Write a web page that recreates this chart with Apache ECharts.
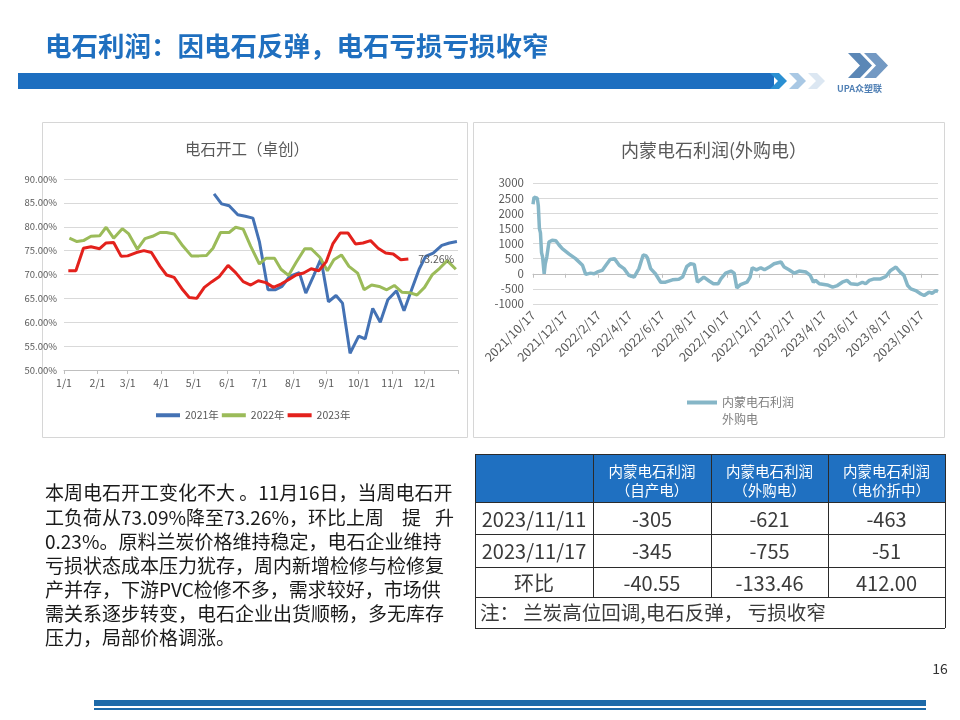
<!DOCTYPE html>
<html><head><meta charset="utf-8">
<script src="https://cdn.jsdelivr.net/npm/echarts@6/dist/echarts.min.js"></script>
<style>html,body{margin:0;padding:0;background:#fff}#c{width:960px;height:720px}</style>
</head><body><div id="c"></div>
<script>
const FONT = '"Noto Sans CJK SC","Noto Sans",sans-serif';

// ---------- left chart: 电石开工（卓创） ----------
const monthLabels = ['1/1','2/1','3/1','4/1','5/1','6/1','7/1','8/1','9/1','10/1','11/1','12/1'];
const monthStartDays = [0,31,59,90,120,151,181,212,243,273,304,334];
const rateTicks = [50,55,60,65,70,75,80,85,90];
const legendYears = ['2021年','2022年','2023年'];

const days2021 = [139,146,153,161,168,175,181,189,196,202,209,218,224,231,238,245,252,258,265,273,279,286,293,300,308,315,322,329,335,342,350,357,364];
const rate2021 = [86.9,84.8,84.4,82.5,82.2,81.8,76.9,66.8,66.8,67.5,69.6,70.4,66.1,69.6,73.3,64.3,65.6,64.0,53.5,57.1,56.5,62.9,60.0,64.7,66.6,62.4,66.8,71.1,73.8,74.5,76.1,76.6,76.9];

const days2022 = [5,12,18,25,33,39,46,54,60,68,75,82,89,95,102,110,118,125,132,138,145,153,159,166,173,181,187,195,201,208,215,223,229,237,244,250,257,264,272,278,285,292,299,306,313,320,327,334,341,348,355,363];
const rate2022 = [77.6,76.9,77.1,78.0,78.1,79.9,77.6,79.6,78.5,75.3,77.5,78.0,78.8,78.8,78.5,76.0,73.9,73.9,74.0,75.5,78.8,78.8,79.9,79.5,75.9,72.2,73.4,73.4,71.1,69.8,72.5,75.4,75.4,73.6,70.8,73.1,74.1,71.7,70.3,66.8,67.8,67.5,66.8,67.7,66.3,66.2,65.7,67.3,69.9,71.3,72.9,71.1];

const days2023 = [4,11,18,25,33,39,46,53,59,67,74,81,89,95,102,110,116,123,130,137,144,152,159,166,173,180,187,194,201,208,215,222,229,236,243,249,256,263,270,277,284,291,298,305,312,319];
const rate2023 = [70.8,70.8,75.5,75.8,75.4,76.6,76.7,73.8,73.9,74.6,75.0,74.6,71.7,69.9,69.4,66.8,65.2,65.0,67.3,68.5,69.6,71.9,70.4,68.5,67.8,68.7,68.3,67.3,68.0,68.9,69.9,70.3,71.2,70.8,72.7,76.4,78.7,78.7,76.4,76.6,77.1,75.5,74.5,74.3,73.09,73.26];

// ---------- right chart: 内蒙电石利润(外购电) ----------
const profitBaseDate = '2021/10/17';
const profitEndDate = '2023/11/17';
const profitTickLabels = ['2021/10/17','2021/12/17','2022/2/17','2022/4/17','2022/6/17','2022/8/17','2022/10/17','2022/12/17','2023/2/17','2023/4/17','2023/6/17','2023/8/17','2023/10/17'];
const profitTicks = [-1000,-500,0,500,1000,1500,2000,2500,3000];
const profitSeriesName = '内蒙电石利润外购电';
// [days after 2021/10/17, profit]
const profitPoints = [
 [0,2300],[2,2530],[8,2500],[10,2250],[12,1500],[14,1350],[16,700],[18,560],[21,0],[23,330],[26,560],[30,1050],[36,1110],[43,1090],
 [49,950],[55,830],[68,650],[80,500],[93,280],[99,-20],[108,20],[115,0],[121,60],[130,110],[137,280],[145,470],[148,530],[153,500],
 [162,280],[171,170],[180,-50],[190,-110],[199,170],[207,620],[212,600],[215,530],[221,170],[230,0],[240,-280],[249,-280],[262,-200],
 [274,-180],[281,-110],[289,240],[296,330],[303,310],[309,-280],[321,-110],[331,-240],[339,-330],[348,-330],[353,-170],[362,20],
 [372,90],[378,20],[383,-470],[390,-360],[402,-280],[408,-110],[412,200],[420,130],[428,200],[435,130],[444,220],[453,330],
 [466,390],[472,220],[481,130],[491,20],[500,90],[513,55],[521,-55],[527,-280],[531,-220],[538,-330],[553,-370],[563,-440],
 [572,-390],[581,-280],[590,-220],[597,-330],[610,-355],[619,-280],[625,-330],[632,-220],[641,-170],[653,-170],[663,-90],
 [672,110],[682,220],[690,55],[697,-55],[704,-390],[710,-500],[719,-555],[729,-670],[735,-720],[744,-610],[750,-645],[757,-555],[761,-590]
];

// ---------- table & text ----------
const tableHeaders = [['内蒙电石利润','（自产电）'],['内蒙电石利润','（外购电）'],['内蒙电石利润','（电价折中）']];
const tableRows = [
  ['2023/11/11','-305','-621','-463'],
  ['2023/11/17','-345','-755','-51'],
  ['环比','-40.55','-133.46','412.00']
];
const tableNote = '注： 兰炭高位回调,电石反弹， 亏损收窄';
const paragraphLines = [
  '本周电石开工变化不大 。11月16日，当周电石开',
  '工负荷从73.09%降至73.26%，环比上周',
  '0.23%。原料兰炭价格维持稳定，电石企业维持',
  '亏损状态成本压力犹存，周内新增检修与检修复',
  '产并存，下游PVC检修不多，需求较好，市场供',
  '需关系逐步转变，电石企业出货顺畅，多无库存',
  '压力，局部价格调涨。'
];
const slideTitle = '电石利润：因电石反弹，电石亏损亏损收窄';
const pageNumber = '16';

// ---------- helpers ----------
function toDay(s){ const p = s.split('/').map(Number); const b = profitBaseDate.split('/').map(Number);
  return Math.round((Date.UTC(p[0],p[1]-1,p[2]) - Date.UTC(b[0],b[1]-1,b[2]))/86400000); }
const profitTickDays = profitTickLabels.map(toDay);
const zip = (a,b) => a.map((v,i)=>[v,b[i]]);
function chev(x,y,t,d,h,color){
  return {type:'polygon', shape:{points:[[x,y],[x+t,y],[x+t+d,y+h/2],[x+t,y+h],[x,y+h],[x+d,y+h/2]]}, style:{fill:color}, silent:true};
}

const graphics = [];
// header
graphics.push({type:'text', left:45, top:33, style:{text:slideTitle, font:'bold 26.5px '+FONT, fill:'#1f6fbf'}});
graphics.push({type:'rect', shape:{x:18,y:73,width:756,height:16}, style:{fill:'#1c6ec0'}});
graphics.push(chev(770,73,9,8,16,'#2a8fd2'));
graphics.push(chev(789,73,9,8,16,'#a9c8e4'));
graphics.push(chev(808,73,9,8,16,'#dce7f2'));
// logo
graphics.push(chev(848,53,12,12,25,'#5b87b6'));
graphics.push(chev(864,53,12,12,25,'#7399c3'));
graphics.push({type:'text', x:837, y:84, style:{text:'UPA众塑联', font:'bold 9px '+FONT, fill:'#4f7fb4'}});
// chart frames
graphics.push({type:'rect', shape:{x:42.5,y:122.5,width:425,height:315}, style:{fill:'none', stroke:'#d6d6d6', lineWidth:1}, z:-1});
graphics.push({type:'rect', shape:{x:473.5,y:122.5,width:471,height:315}, style:{fill:'none', stroke:'#d6d6d6', lineWidth:1}, z:-1});
// paragraph
const paraY = [493,518,542,566,590,614,638];
paragraphLines.forEach((s,i)=>{
  graphics.push({type:'text', x:45, y:paraY[i], style:{text:s, font:'19px '+FONT, fill:'#1a1a1a', verticalAlign:'middle'}});
});
graphics.push({type:'text', x:402, y:paraY[1], style:{text:'提', font:'19px '+FONT, fill:'#1a1a1a', verticalAlign:'middle'}});
graphics.push({type:'text', x:435, y:paraY[1], style:{text:'升', font:'19px '+FONT, fill:'#1a1a1a', verticalAlign:'middle'}});
// table
const colX = [475,593,711,828,945];
const rowY = [454,502,534,567,597,628];
graphics.push({type:'rect', shape:{x:475,y:454,width:470,height:48}, style:{fill:'#1f70c1'}});
rowY.forEach(y=>graphics.push({type:'line', shape:{x1:475,y1:y+0.5,x2:945,y2:y+0.5}, style:{stroke:'#2b2b2b', lineWidth:1}}));
colX.forEach((x,i)=>{
  const y2 = (i===0||i===4) ? 628 : 597;
  graphics.push({type:'line', shape:{x1:x+0.5,y1:454,x2:x+0.5,y2:y2}, style:{stroke:'#2b2b2b', lineWidth:1}});
});
tableHeaders.forEach((h,i)=>{
  const cx = (colX[i+1]+colX[i+2])/2;
  graphics.push({type:'text', x:cx, y:471, style:{text:h[0], font:'14.5px '+FONT, fill:'#fff', align:'center', verticalAlign:'middle'}});
  graphics.push({type:'text', x:cx, y:490, style:{text:h[1], font:'14.5px '+FONT, fill:'#fff', align:'center', verticalAlign:'middle'}});
});
tableRows.forEach((r,ri)=>{
  const cy = (rowY[ri+1]+rowY[ri+2])/2 + 1;
  r.forEach((cell,ci)=>{
    const cx = (colX[ci]+colX[ci+1])/2;
    graphics.push({type:'text', x:cx, y:cy, style:{text:cell, font:'20px '+FONT, fill:'#3a3a3a', align:'center', verticalAlign:'middle'}});
  });
});
graphics.push({type:'text', x:480, y:613, style:{text:tableNote, font:'19.5px '+FONT, fill:'#3a3a3a', verticalAlign:'middle'}});
// footer
graphics.push({type:'text', x:940, y:669, style:{text:pageNumber, font:'14px '+FONT, fill:'#333', align:'center', verticalAlign:'middle'}});
graphics.push({type:'rect', shape:{x:94,y:700,width:832,height:6}, style:{fill:'#1d6aa9'}});
graphics.push({type:'rect', shape:{x:94,y:708,width:832,height:2}, style:{fill:'#1d6aa9'}});

const chart = echarts.init(document.getElementById('c'), null, {renderer:'canvas'});
chart.setOption({
  backgroundColor:'#fff',
  animation:false,
  textStyle:{fontFamily:FONT},
  title:[
    {text:'电石开工（卓创）', left:242, top:136, textAlign:'center', textStyle:{fontSize:15.5, fontWeight:'normal', color:'#595959', fontFamily:FONT}},
    {text:'内蒙电石利润(外购电）', left:709, top:136, textAlign:'center', textStyle:{fontSize:18, fontWeight:'normal', color:'#595959', fontFamily:FONT}}
  ],
  legend:[
    {data:legendYears, left:156, top:410, padding:0, icon:'rect', itemWidth:24, itemHeight:4, itemGap:3, textStyle:{fontSize:10.5, color:'#595959'}},
    {data:[profitSeriesName], left:687, top:377, padding:0, icon:'rect', itemWidth:30, itemHeight:4,
     formatter:n=>'\n内蒙电石利润\n外购电', textStyle:{fontSize:12, color:'#7f7f7f', lineHeight:17}}
  ],
  grid:[
    {left:64, top:179, width:394, height:191},
    {left:533, top:183, width:405, height:121}
  ],
  xAxis:[
    {type:'value', gridIndex:0, min:0, max:365,
     axisLine:{show:true, lineStyle:{color:'#bfbfbf'}},
     axisTick:{show:true, length:4, lineStyle:{color:'#bfbfbf'}, customValues:monthStartDays.concat([365])},
     axisLabel:{customValues:monthStartDays, formatter:v=>monthLabels[monthStartDays.indexOf(v)], fontSize:10.5, color:'#595959', margin:8},
     splitLine:{show:false}},
    {type:'value', gridIndex:1, min:0, max:toDay(profitEndDate),
     axisLine:{show:true, lineStyle:{color:'#bfbfbf'}},
     axisTick:{show:true, length:4, lineStyle:{color:'#bfbfbf'}, customValues:profitTickDays},
     axisLabel:{customValues:profitTickDays, rotate:45, formatter:v=>profitTickLabels[profitTickDays.indexOf(v)], fontSize:12.5, color:'#595959', margin:9},
     splitLine:{show:false}}
  ],
  yAxis:[
    {type:'value', gridIndex:0, min:50, max:90, interval:5,
     axisLine:{show:false}, axisTick:{show:false},
     axisLabel:{formatter:v=>v.toFixed(2)+'%', fontSize:9.5, color:'#595959', margin:7},
     splitLine:{lineStyle:{color:'#d9d9d9'}}},
    {type:'value', gridIndex:1, min:-1000, max:3000, interval:500,
     axisLine:{show:false}, axisTick:{show:false},
     axisLabel:{formatter:v=>String(v), fontSize:11.5, color:'#595959', margin:9},
     splitLine:{lineStyle:{color:'#d9d9d9'}}}
  ],
  series:[
    {name:'2021年', type:'line', xAxisIndex:0, yAxisIndex:0, data:zip(days2021,rate2021), symbol:'none', lineStyle:{width:3, color:'#4472b4'}, itemStyle:{color:'#4472b4'}},
    {name:'2022年', type:'line', xAxisIndex:0, yAxisIndex:0, data:zip(days2022,rate2022), symbol:'none', lineStyle:{width:3, color:'#9bbb59'}, itemStyle:{color:'#9bbb59'}},
    {name:'2023年', type:'line', xAxisIndex:0, yAxisIndex:0, data:zip(days2023,rate2023), symbol:'none', lineStyle:{width:3, color:'#e3211c'}, itemStyle:{color:'#e3211c'},
     endLabel:{show:true, distance:10, fontSize:10.5, color:'#595959', formatter:p=>p.value[1].toFixed(2)+'%'}, z:3},
    {name:profitSeriesName, type:'line', xAxisIndex:1, yAxisIndex:1, data:profitPoints, symbol:'none', lineStyle:{width:3.5, color:'#86b6c7'}, itemStyle:{color:'#86b6c7'}}
  ],
  graphic:graphics
});
</script>
</body></html>
